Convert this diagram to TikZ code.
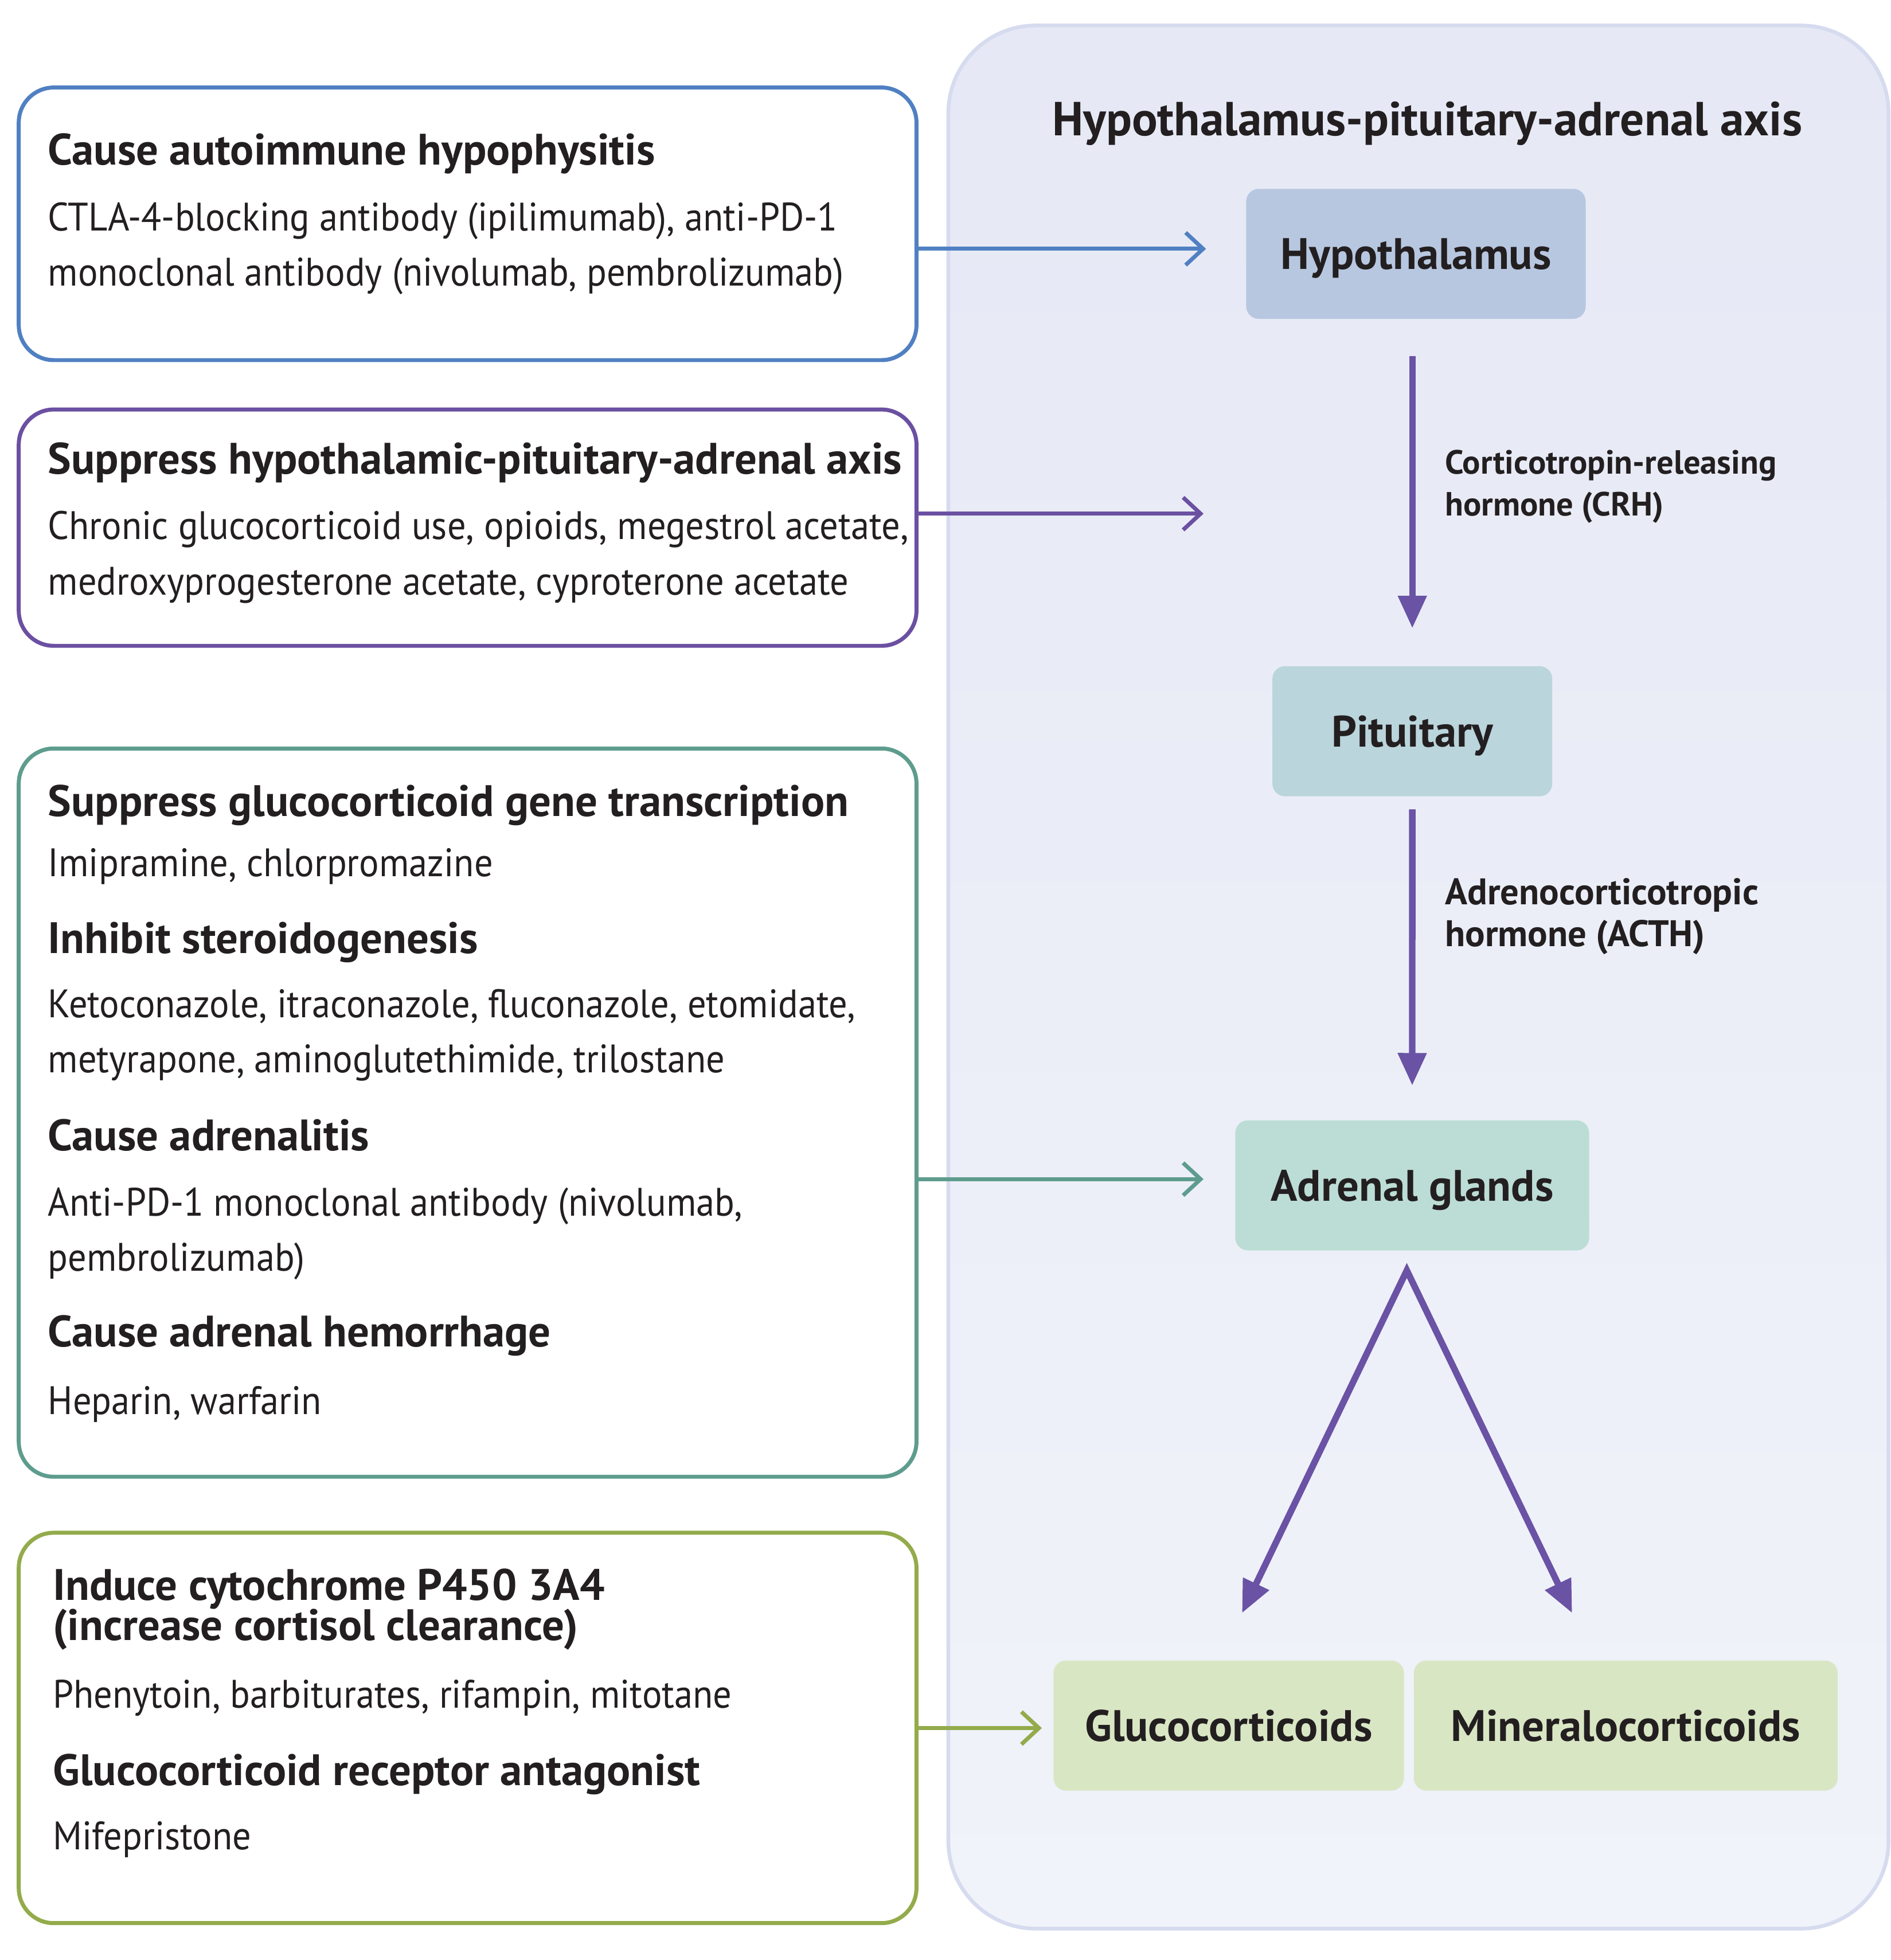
\documentclass[tikz,border=0pt]{standalone}
\usepackage{fontspec}
\setmainfont{PT Sans}
\newfontfamily\drugfont{PT Sans}[FakeStretch=0.93]
\usetikzlibrary{arrows.meta}
\definecolor{causeBlue}{HTML}{5080C2}
\definecolor{suppPurple}{HTML}{6B50A2}
\definecolor{adrTeal}{HTML}{5E9C8E}
\definecolor{cypGreen}{HTML}{93AB4B}
\definecolor{axisArrow}{HTML}{6A52A5}
\definecolor{hypoFill}{HTML}{B8C7E0}
\definecolor{pitFill}{HTML}{BAD5DC}
\definecolor{adrFill}{HTML}{BCDDD6}
\definecolor{corFill}{HTML}{D9E6C4}
\definecolor{panelTop}{HTML}{E6E9F5}
\definecolor{panelBot}{HTML}{F0F3F9}
\definecolor{panelLine}{HTML}{D6DBEF}
\definecolor{ink}{HTML}{231F20}

\begin{document}
\begin{tikzpicture}[x=0.5pt, y=-0.5pt, >={Straight Barb[length=7pt,width=13pt]}, text=ink]
  \tikzstyle{panelbox}=[draw=panelLine, line width=1.5pt, top color=panelTop, bottom color=panelBot, rounded corners=35pt, minimum width=376pt, minimum height=761pt, inner sep=0pt]
  \tikzstyle{drugbox}=[draw, fill=white, line width=1.6pt, rounded corners=14pt, minimum width=359pt, inner sep=0pt]
  \tikzstyle{organ}=[rounded corners=5pt, minimum height=52pt, inner sep=0pt, text height=12.4pt, text depth=0pt, font=\fontsize{17.6}{20}\selectfont\bfseries]
  \tikzstyle{head}=[anchor=base west, inner sep=0pt, font=\fontsize{17.6}{20}\selectfont\bfseries]
  \tikzstyle{drug}=[anchor=base west, inner sep=0pt, font=\drugfont\fontsize{15.9}{18}\selectfont]
  \tikzstyle{hormone}=[anchor=base west, inner sep=0pt, font=\fontsize{13.4}{15}\selectfont\bfseries]
  \tikzstyle{feed}=[->, line width=1.6pt]
  \tikzstyle{axis}=[-{Triangle[length=13pt,width=11pt]}, line width=2.6pt, axisArrow]

  \useasboundingbox (0,0) rectangle (1512,1567.5);

  % HPA axis panel
  \node[panelbox] (panel) at (1134.5,781.4) {};
  \node[anchor=base, inner sep=0pt, font=\fontsize{19.1}{22}\selectfont\bfseries] (axistitle) at (1141.5,108.5) {Hypothalamus-pituitary-adrenal axis};

  \node[organ, fill=hypoFill, minimum width=135.75pt] (hypo) at (1132.5,203) {Hypothalamus};
  \node[organ, fill=pitFill, minimum width=111.9pt] (pit) at (1129.6,584.8) {Pituitary};
  \node[organ, fill=adrFill, minimum width=141.5pt] (adr) at (1129.5,948) {Adrenal glands};
  \node[organ, fill=corFill, minimum width=140.15pt] (gluco) at (982.75,1380) {Glucocorticoids};
  \node[organ, fill=corFill, minimum width=169.5pt] (mineral) at (1300.3,1380) {Mineralocorticoids};

  \node[hormone] (crh1) at (1155.4,379) {Corticotropin-releasing};
  \node[hormone] (crh2) at (1155.4,412.5) {hormone (CRH)};
  \node[hormone, font=\fontsize{14.8}{17}\selectfont\bfseries] (acth1) at (1155.4,723.5) {Adrenocorticotropic};
  \node[hormone, font=\fontsize{14.8}{17}\selectfont\bfseries] (acth2) at (1155.4,757) {hormone (ACTH)};

  \draw[axis, shorten <=14.75pt, shorten >=15pt] (pit.north |- hypo.south) -- (pit.north);
  \draw[axis, shorten <=5pt, shorten >=13.75pt] (pit.south) -- (adr.north);
  \coordinate (split) at ([xshift=-2.15pt, yshift=-7.8pt]adr.south);
  \coordinate (glucoTip) at (993.4,1290);
  \coordinate (mineralTip) at (1257.4,1290);
  \draw[axis, {Triangle[length=13pt,width=11pt]}-{Triangle[length=13pt,width=11pt]}] (glucoTip) -- (split) -- (mineralTip);

  % drug boxes
  \node[drugbox, draw=causeBlue, minimum height=109pt] (box1) at (374,179) {};
  \node[head] (t1) at (38,132) {Cause autoimmune hypophysitis};
  \node[drug] (d1a) at (38,184.7) {CTLA-4-blocking antibody (ipilimumab), anti-PD-1};
  \node[drug] (d1b) at (38,228.6) {monoclonal antibody (nivolumab, pembrolizumab)};

  \node[drugbox, draw=suppPurple, minimum height=94.5pt] (box2) at (374,422) {};
  \node[head] (t2) at (38,379) {Suppress hypothalamic-pituitary-adrenal axis};
  \node[drug] (d2a) at (38,431.2) {Chronic glucocorticoid use, opioids, megestrol acetate,};
  \node[drug] (d2b) at (38,475.8) {medroxyprogesterone acetate, cyproterone acetate};

  \node[drugbox, draw=adrTeal, minimum height=291.2pt] (box3) at (374,889.8) {};
  \node[head] (t3a) at (38,653) {Suppress glucocorticoid gene transcription};
  \node[drug] (d3a) at (38,701) {Imipramine, chlorpromazine};
  \node[head] (t3b) at (38,762.4) {Inhibit steroidogenesis};
  \node[drug] (d3b) at (38,814) {Ketoconazole, itraconazole, fluconazole, etomidate,};
  \node[drug] (d3c) at (38,857.8) {metyrapone, aminoglutethimide, trilostane};
  \node[head] (t3c) at (38,920.4) {Cause adrenalitis};
  \node[drug] (d3d) at (38,972.4) {Anti-PD-1 monoclonal antibody (nivolumab,};
  \node[drug] (d3e) at (38,1016.7) {pembrolizumab)};
  \node[head] (t3d) at (38,1076.8) {Cause adrenal hemorrhage};
  \node[drug] (d3f) at (38,1131) {Heparin, warfarin};

  \node[drugbox, draw=cypGreen, minimum height=156.1pt] (box4) at (374,1381.9) {};
  \node[head] (t4a) at (42,1279.7) {Induce cytochrome P450 3A4};
  \node[head] (t4b) at (42,1312) {(increase cortisol clearance)};
  \node[drug] (d4a) at (42,1365.7) {Phenytoin, barbiturates, rifampin, mitotane};
  \node[head] (t4c) at (42,1428) {Glucocorticoid receptor antagonist};
  \node[drug] (d4b) at (42,1479.4) {Mifepristone};

  % inputs to the axis
  \coordinate (hypoIn) at (964.6,199);
  \coordinate (axisIn) at (962.6,410.8);
  \coordinate (adrIn) at (962.6,943);
  \coordinate (corIn) at (833.3,1382);
  \draw[feed, causeBlue] (box1.east |- hypoIn) -- (hypoIn);
  \draw[feed, suppPurple] (box2.east |- axisIn) -- (axisIn);
  \draw[feed, adrTeal] (box3.east |- adrIn) -- (adrIn);
  \draw[feed, cypGreen] (box4.east |- corIn) -- (corIn);

\end{tikzpicture}
\end{document}
